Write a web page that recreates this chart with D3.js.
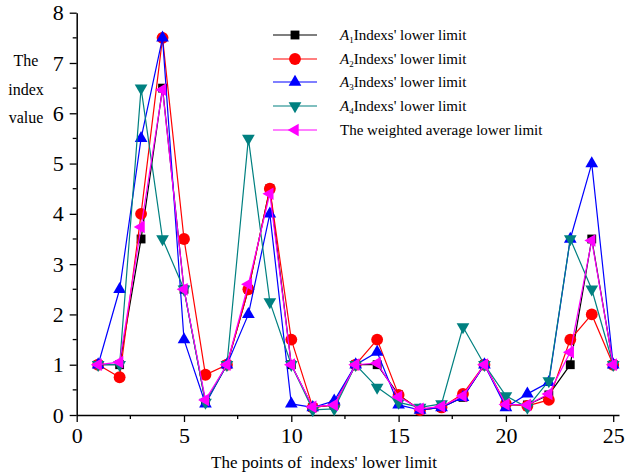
<!DOCTYPE html>
<html>
<head>
<meta charset="utf-8">
<script src="https://cdn.jsdelivr.net/npm/d3@7"></script>
<style>
body { margin: 0; background: #fff; }
</style>
</head>
<body>
<script>
// points 1..25
var points = d3.range(1, 26);

var a1 = [1, 1, 3.5, 6.5, 2.5, 0.25, 1, 2.5, 4.5, 1, 0.15, 0.2, 1, 1, 0.4, 0.1, 0.15, 0.35, 1, 0.2, 0.2, 0.4, 1, 3.5, 1];
var a2 = [1, 0.75, 4, 7.5, 3.5, 0.8, 1, 2.5, 4.5, 1.5, 0.15, 0.2, 1, 1.5, 0.4, 0.1, 0.15, 0.42, 1, 0.22, 0.18, 0.3, 1.5, 2, 1];
var a3 = [1, 2.5, 5.5, 7.5, 1.5, 0.22, 1, 2, 4, 0.22, 0.15, 0.28, 1, 1.25, 0.2, 0.1, 0.15, 0.35, 1, 0.15, 0.42, 0.65, 3.5, 5, 1];
var a4 = [1, 1, 6.5, 3.5, 2.5, 0.25, 1, 5.5, 2.25, 1, 0.1, 0.12, 1, 0.55, 0.25, 0.15, 0.22, 1.75, 1, 0.38, 0.15, 0.68, 3.5, 2.5, 1];
var avg = [1, 1.05, 3.74, 6.47, 2.5, 0.3, 1, 2.6, 4.4, 1, 0.16, 0.2, 1, 1.03, 0.36, 0.12, 0.17, 0.38, 1, 0.21, 0.2, 0.42, 1.25, 3.47, 1];

var seriesNames = ["Indexs' lower limit", "Indexs' lower limit", "Indexs' lower limit", "Indexs' lower limit", "The weighted average lower limit"];
var seriesSubs = ["1", "2", "3", "4", ""];
var seriesColors = ["#000000", "#ff0000", "#0000ff", "#008080", "#ff00ff"];
var seriesData = [a1, a2, a3, a4, avg];

var xTicks = [0, 5, 10, 15, 20, 25];
var xMinor = [2.5, 7.5, 12.5, 17.5, 22.5];
var yTicks = [0, 1, 2, 3, 4, 5, 6, 7, 8];
var yMinor = [0.5, 1.5, 2.5, 3.5, 4.5, 5.5, 6.5, 7.5];

var FONT = "'Liberation Serif', 'Times New Roman', 'DejaVu Serif', serif";

var W = 627, H = 472;
var svg = d3.select("body").append("svg").attr("width", W).attr("height", H)
	.attr("font-family", FONT);

var x = d3.scaleLinear().domain([0, 25.27]).range([76.7, 619]);
var y = d3.scaleLinear().domain([0, 8]).range([415, 12.7]);

// symbols: square, circle, up, down, left
var symbols = [
	{type: d3.symbolSquare, size: 78, rot: 0},
	{type: d3.symbolCircle, size: 110, rot: 0},
	{type: d3.symbolTriangle, size: 70, rot: 0},
	{type: d3.symbolTriangle, size: 70, rot: 180},
	{type: d3.symbolTriangle, size: 70, rot: -90}
];

// axes
var xAxis = svg.append("g")
	.attr("transform", "translate(0," + y(0) + ")")
	.call(d3.axisBottom(x).tickValues(xTicks).tickSize(7).tickSizeOuter(0).tickPadding(5));
xAxis.attr("font-family", FONT);
xAxis.selectAll("text").style("font-size", "22px").style("font-family", FONT).attr("fill", "#000");
xAxis.selectAll("line").attr("stroke", "#000").attr("stroke-width", 1.3);
xAxis.select(".domain").attr("stroke", "#000").attr("stroke-width", 1.5);
xAxis.selectAll(".minor").data(xMinor).enter().append("line")
	.attr("class", "minor")
	.attr("x1", function(d){ return x(d); })
	.attr("x2", function(d){ return x(d); })
	.attr("y1", 0).attr("y2", 4)
	.attr("stroke", "#000").attr("stroke-width", 1.3);

var yAxis = svg.append("g")
	.attr("transform", "translate(" + x(0) + ",0)")
	.call(d3.axisLeft(y).tickValues(yTicks).tickSize(7).tickSizeOuter(0).tickPadding(6));
yAxis.attr("font-family", FONT);
yAxis.selectAll("text").style("font-size", "22px").style("font-family", FONT).attr("fill", "#000");
yAxis.selectAll("line").attr("stroke", "#000").attr("stroke-width", 1.3);
yAxis.select(".domain").attr("stroke", "#000").attr("stroke-width", 1.5);
yAxis.selectAll(".minor").data(yMinor).enter().append("line")
	.attr("class", "minor")
	.attr("y1", function(d){ return y(d); })
	.attr("y2", function(d){ return y(d); })
	.attr("x1", 0).attr("x2", -4)
	.attr("stroke", "#000").attr("stroke-width", 1.3);

// axis titles
svg.append("text")
	.attr("x", 324).attr("y", 468)
	.attr("text-anchor", "middle")
	.style("font-size", "17px")
	.style("font-family", FONT)
	.style("white-space", "pre")
	.text("The points of  indexs' lower limit");

var yTitle = ["The", "index", "value"];
svg.selectAll(".ytitle").data(yTitle).enter().append("text")
	.attr("class", "ytitle")
	.attr("x", 26)
	.attr("y", function(d, i){ return 66 + i * 28.5; })
	.attr("text-anchor", "middle")
	.style("font-size", "16px")
	.style("font-family", FONT)
	.text(function(d){ return d; });

// series
var line = d3.line()
	.x(function(d, i){ return x(points[i]); })
	.y(function(d){ return y(d); });

seriesData.forEach(function(vals, k){
	var g = svg.append("g");
	g.append("path")
		.attr("d", line(vals))
		.attr("fill", "none")
		.attr("stroke", seriesColors[k])
		.attr("stroke-width", 1.2);
	g.selectAll("path.pt").data(vals).enter().append("path")
		.attr("class", "pt")
		.attr("d", d3.symbol().type(symbols[k].type).size(symbols[k].size))
		.attr("transform", function(d, i){
			return "translate(" + x(points[i]) + "," + y(d) + ") rotate(" + symbols[k].rot + ")";
		})
		.attr("fill", seriesColors[k]);
});

// legend
var legend = svg.append("g");
var legY = [35, 59, 82, 106, 130];
seriesData.forEach(function(vals, k){
	var row = legend.append("g").attr("transform", "translate(0," + legY[k] + ")");
	row.append("line")
		.attr("x1", 273).attr("x2", 317).attr("y1", 0).attr("y2", 0)
		.attr("stroke", seriesColors[k]).attr("stroke-width", 1.2);
	row.append("path")
		.attr("d", d3.symbol().type(symbols[k].type).size(symbols[k].size))
		.attr("transform", "translate(295,0) rotate(" + symbols[k].rot + ")")
		.attr("fill", seriesColors[k]);
	var t = row.append("text").attr("x", 340).attr("y", 5)
		.style("font-size", "15px").style("font-family", FONT);
	if (seriesSubs[k] !== "") {
		t.append("tspan").style("font-style", "italic").text("A");
		t.append("tspan").attr("dy", 3).style("font-size", "9px").text(seriesSubs[k]);
		t.append("tspan").attr("dy", -3).text(seriesNames[k]);
	} else {
		t.text(seriesNames[k]);
	}
});
</script>
</body>
</html>
